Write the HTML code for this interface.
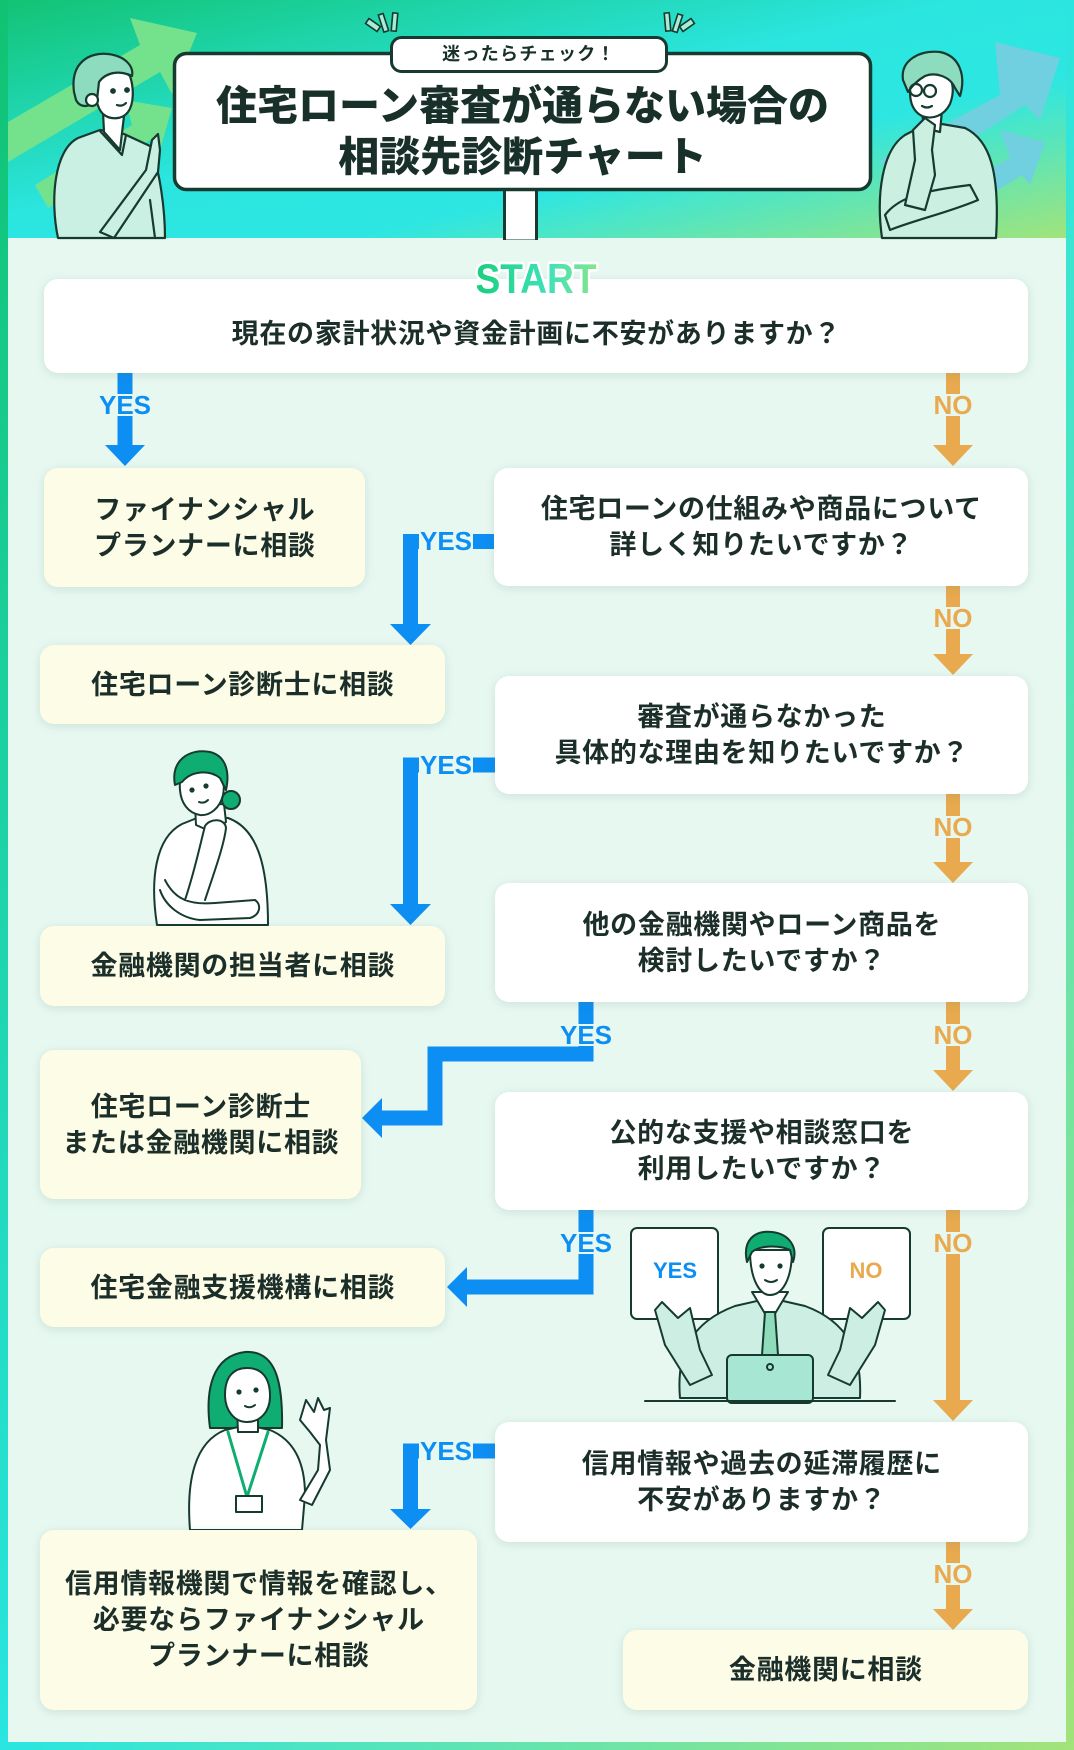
<!DOCTYPE html>
<html><head><meta charset="utf-8">
<style>
*{margin:0;padding:0;box-sizing:border-box}
html,body{width:1074px;height:1750px;overflow:hidden}
body{position:relative;background:linear-gradient(to bottom right,#10c271 0%,#2ae5e0 50%,#a2e379 100%);font-family:"Liberation Sans","Noto Sans CJK JP",sans-serif}
#inner{position:absolute;left:8px;top:238px;width:1058px;height:1504px;background:#e7f8f1}
#header{position:absolute;left:8px;top:0;width:1058px;height:238px;background:linear-gradient(to bottom right,#12c374 0%,#2be5df 45%,#2de6e2 66%,#a0e47b 100%)}
svg{position:absolute;left:0;top:0}
.box{position:absolute;border-radius:14px;display:flex;align-items:center;justify-content:center;text-align:center;font-weight:700;font-size:27px;line-height:36px;color:#1c2e29;letter-spacing:0.7px;padding-left:0.7px;box-shadow:0 2px 10px rgba(60,120,100,0.16)}
.w{background:#fff}.c{background:#fdfde7}
.lbl{position:absolute;font-weight:700;font-size:26px;line-height:22px;height:22px;transform:translate(-50%,-50%);background:#e7f8f1;padding:0 1px;font-family:"Liberation Sans",sans-serif}
.b{color:#0d8ef3}.o{color:#e9aa4f}
.title{position:absolute;left:173px;width:699px;text-align:center;font-weight:900;font-size:41px;line-height:51px;color:#183029}
</style></head><body>
<div id="header"></div>
<div id="inner"></div>

<!-- header graphics -->
<svg width="1074" height="240" viewBox="0 0 1074 240">
  <g fill="#74e18d">
    <polygon points="8,122 140,45 130,18 197,33 172,94 160,72 8,162"/>
    <polygon points="35,185 132,125 125,100 172,108 160,150 150,140 48,208"/>
  </g>
  <g fill="#70d0e0">
    <polygon points="880,160 1000,95 995,42 1060,58 1040,120 1025,105 900,185"/>
    <polygon points="930,200 1010,158 1000,130 1045,142 1030,185 1022,175 950,220"/>
  </g>
  <!-- left person -->
  <g stroke="#163a30" stroke-width="2.2" stroke-linejoin="round" stroke-linecap="round">
    <path d="M58,238 C50,200 54,150 78,138 L100,130 L124,134 L150,146 C160,170 165,210 165,238 Z" fill="#c9f0e2"/>
    <path d="M103,112 L104,132 L120,150 L124,116 Z" fill="#fff"/>
    <path d="M100,131 L122,155 L126,135" fill="none"/>
    <path d="M96,80 C100,68 118,66 130,76 C134,88 134,104 128,112 C122,120 110,120 103,114 C97,108 94,95 96,80 Z" fill="#fff"/>
    <path d="M74,92 C70,62 90,52 108,54 C125,56 134,66 132,76 C120,70 106,72 99,82 L97,100 C90,108 80,108 76,100 Z" fill="#8ddcc0"/>
    <circle cx="92" cy="100" r="6" fill="#fff"/>
    <circle cx="113" cy="91" r="1.8" fill="#163a30"/>
    <circle cx="127" cy="90" r="1.8" fill="#163a30"/>
    <path d="M117,105 Q122,107 126,103" fill="none"/>
    <path d="M100,232 L146,170 L152,140 L158,134 L160,150 L158,172 L114,238 Z" fill="#c9f0e2"/>
    <path d="M150,200 L155,238" fill="none"/>
  </g>
  <!-- right person -->
  <g stroke="#163a30" stroke-width="2.2" stroke-linejoin="round" stroke-linecap="round">
    <path d="M882,238 C876,195 882,150 905,135 L930,122 L965,128 C990,140 1000,172 996,238 Z" fill="#cbf0e2"/>
    <path d="M922,112 L924,128 L940,132 L942,110 Z" fill="#fff"/>
    <path d="M910,92 C908,75 920,66 938,68 C952,72 956,88 950,104 C944,116 932,120 922,116 C914,112 910,104 910,92 Z" fill="#fff"/>
    <path d="M903,80 C900,60 920,50 940,52 C960,56 966,76 960,96 L955,88 C950,76 935,72 925,76 C918,80 912,86 908,92 Z" fill="#8ddcc0"/>
    <circle cx="916" cy="90" r="6" fill="none"/>
    <circle cx="930" cy="91" r="6" fill="none"/>
    <path d="M922,106 Q927,109 932,106" fill="none"/>
    <path d="M885,215 C900,195 930,190 970,185 L978,200 C950,212 915,220 890,230 Z" fill="#cbf0e2"/>
    <path d="M905,205 L915,160 L913,130 L925,118 L935,125 L932,150 L935,175 L925,210 Z" fill="#cbf0e2"/>
  </g>
  <!-- sparkles -->
  <g fill="#a9ecd6" stroke="#163a30" stroke-width="1.6">
    <rect x="366" y="22" width="14" height="6" transform="rotate(35 373 25)"/>
    <rect x="381" y="14" width="5" height="18" transform="rotate(-18 383 23)"/>
    <rect x="392" y="13" width="5" height="18" transform="rotate(5 394 22)"/>
    <rect x="665" y="13" width="5" height="18" transform="rotate(-5 667 22)"/>
    <rect x="675" y="14" width="5" height="18" transform="rotate(18 677 23)"/>
    <rect x="680" y="22" width="14" height="6" transform="rotate(-35 687 25)"/>
  </g>
  <rect x="504.5" y="189" width="32" height="52" fill="#fff" stroke="#163a30" stroke-width="3"/>
  <rect x="174.5" y="53.5" width="696" height="136" rx="12" fill="#fff" stroke="#163a30" stroke-width="3.5"/>
  <rect x="391.5" y="37.5" width="275" height="34" rx="10" fill="#fff" stroke="#163a30" stroke-width="3"/>
</svg>
<div style="position:absolute;left:391px;top:37px;width:276px;height:35px;line-height:35px;text-align:center;font-weight:700;font-size:18px;letter-spacing:1.3px;color:#183029">迷ったらチェック！</div>
<div class="title" style="top:81px">住宅ローン審査が通らない場合の</div>
<div class="title" style="top:132px">相談先診断チャート</div>

<!-- connectors -->
<svg width="1074" height="1750" viewBox="0 0 1074 1750">
  <g fill="none" stroke="#0d8ef3" stroke-width="15">
    <path d="M125 373V447"/>
    <path d="M495 541.5H410.5V626"/>
    <path d="M495 765H410.5V906"/>
    <path d="M586 1002V1054H435V1118H380"/>
    <path d="M586 1210V1287H465"/>
    <path d="M495 1451H410.5V1511"/>
  </g>
  <g fill="#0d8ef3">
    <polygon points="105,445 145,445 125,466"/>
    <polygon points="390,624 431,624 410.5,645"/>
    <polygon points="390,904 431,904 410.5,925"/>
    <polygon points="382,1098 382,1138 362,1118"/>
    <polygon points="467,1267 467,1307 447,1287"/>
    <polygon points="390,1509 431,1509 410.5,1529"/>
  </g>
  <g fill="none" stroke="#e9aa4f" stroke-width="14">
    <path d="M953 373V447 M953 586V656 M953 794V864 M953 1002V1073 M953 1210V1404 M953 1542V1611"/>
  </g>
  <g fill="#e9aa4f">
    <polygon points="933,445 973,445 953,466"/>
    <polygon points="933,654 973,654 953,675"/>
    <polygon points="933,862 973,862 953,883"/>
    <polygon points="933,1070 973,1070 953,1091"/>
    <polygon points="933,1400 973,1400 953,1421"/>
    <polygon points="933,1609 973,1609 953,1630"/>
  </g>

  <!-- middle woman -->
  <g stroke="#163a30" stroke-width="2" stroke-linejoin="round" stroke-linecap="round">
    <path d="M157,925 C150,880 155,838 182,824 L202,816 L228,818 C256,828 268,862 268,925 Z" fill="#fff"/>
    <path d="M195,805 L196,825 L212,832 L226,822 L224,804 Z" fill="#fff"/>
    <circle cx="231" cy="800" r="9" fill="#10ad72"/>
    <path d="M180,790 C178,770 192,760 205,762 C220,765 226,780 223,795 C220,808 210,816 200,815 C188,813 181,803 180,790 Z" fill="#fff"/>
    <path d="M175,785 C170,760 190,748 210,752 C226,756 230,772 226,790 L220,778 C210,770 192,770 182,782 Z" fill="#10ad72"/>
    <circle cx="192" cy="790" r="1.6" fill="#163a30"/>
    <circle cx="206" cy="786" r="1.6" fill="#163a30"/>
    <path d="M199,802 Q204,804 208,800" fill="none"/>
    <path d="M165,880 C175,900 190,905 215,903 L255,900 C262,905 260,915 250,918 L200,920 C180,918 165,905 160,890" fill="#fff"/>
    <path d="M185,900 C195,870 200,845 205,826 C210,818 225,818 226,828 C224,845 215,870 205,900" fill="#fff"/>
  </g>

  <!-- man with laptop -->
  <g stroke="#163a30" stroke-width="2" stroke-linejoin="round" stroke-linecap="round">
    <rect x="631" y="1228" width="87" height="91" rx="6" fill="#fff"/>
    <rect x="823" y="1228" width="87" height="91" rx="6" fill="#fff"/>
    <path d="M680,1398 C676,1352 692,1322 735,1306 L770,1298 L805,1306 C848,1322 862,1352 860,1398 Z" fill="#cdeee2"/>
    <path d="M690,1385 L665,1345 L655,1310 L662,1302 L678,1318 L690,1308 L700,1350 L712,1375 Z" fill="#cdeee2"/>
    <path d="M850,1385 L875,1345 L885,1310 L878,1302 L862,1318 L850,1308 L840,1350 L828,1375 Z" fill="#cdeee2"/>
    <path d="M752,1292 L770,1322 L788,1292 Z" fill="#fff"/>
    <path d="M765,1312 L775,1312 L778,1355 L762,1355 Z" fill="#8fdcbc"/>
    <path d="M750,1250 C750,1280 760,1295 770,1295 C782,1295 792,1280 792,1250 Z" fill="#fff"/>
    <path d="M747,1262 C742,1240 755,1230 772,1232 C790,1234 798,1248 793,1262 L790,1250 C780,1245 760,1245 752,1252 Z" fill="#10ad72"/>
    <circle cx="762" cy="1266" r="1.6" fill="#163a30"/>
    <circle cx="780" cy="1266" r="1.6" fill="#163a30"/>
    <path d="M765,1280 Q771,1284 777,1280" fill="none"/>
    <rect x="727" y="1355" width="86" height="48" rx="5" fill="#a6e6d2"/>
    <circle cx="770" cy="1367" r="3" fill="none"/>
    <path d="M645,1401 H895" fill="none"/>
  </g>

  <!-- bottom woman -->
  <g stroke="#163a30" stroke-width="2" stroke-linejoin="round" stroke-linecap="round">
    <path d="M210,1428 C205,1390 212,1356 245,1352 C275,1350 283,1380 282,1428 Z" fill="#10ad72"/>
    <path d="M190,1530 C186,1480 195,1442 225,1430 L247,1425 L270,1430 C294,1440 305,1462 305,1495 L302,1530 Z" fill="#fff"/>
    <path d="M237,1410 L238,1432 L258,1432 L258,1410 Z" fill="#fff"/>
    <path d="M225,1395 C225,1375 235,1368 247,1368 C262,1368 270,1378 270,1396 C270,1412 260,1422 247,1422 C234,1422 225,1410 225,1395 Z" fill="#fff"/>
    <circle cx="239" cy="1392" r="1.6" fill="#163a30"/>
    <circle cx="256" cy="1390" r="1.6" fill="#163a30"/>
    <path d="M245,1406 Q250,1409 255,1405" fill="none"/>
    <path d="M300,1500 L318,1470 L320,1445 L310,1432 L300,1420 L306,1400 L314,1412 L318,1398 L324,1410 L330,1408 L326,1440 L330,1470 L312,1505 Z" fill="#fff"/>
    <path d="M228,1432 L247,1497 L268,1432" fill="none" stroke="#10ad72" stroke-width="3"/>
    <rect x="236" y="1496" width="26" height="16" fill="#fff"/>
  </g>
</svg>

<!-- boxes -->
<div class="box w" style="left:44px;top:279px;width:984px;height:94px;padding-top:16px">現在の家計状況や資金計画に不安がありますか？</div>
<div class="box c" style="left:44px;top:468px;width:321px;height:119px">ファイナンシャル<br>プランナーに相談</div>
<div class="box w" style="left:494px;top:468px;width:534px;height:118px">住宅ローンの仕組みや商品について<br>詳しく知りたいですか？</div>
<div class="box c" style="left:40px;top:645px;width:405px;height:79px">住宅ローン診断士に相談</div>
<div class="box w" style="left:495px;top:676px;width:533px;height:118px">審査が通らなかった<br>具体的な理由を知りたいですか？</div>
<div class="box c" style="left:40px;top:926px;width:405px;height:80px">金融機関の担当者に相談</div>
<div class="box w" style="left:495px;top:883px;width:533px;height:119px">他の金融機関やローン商品を<br>検討したいですか？</div>
<div class="box c" style="left:40px;top:1050px;width:321px;height:149px">住宅ローン診断士<br>または金融機関に相談</div>
<div class="box w" style="left:495px;top:1092px;width:533px;height:118px">公的な支援や相談窓口を<br>利用したいですか？</div>
<div class="box c" style="left:40px;top:1248px;width:405px;height:79px">住宅金融支援機構に相談</div>
<div class="box w" style="left:495px;top:1422px;width:533px;height:120px">信用情報や過去の延滞履歴に<br>不安がありますか？</div>
<div class="box c" style="left:40px;top:1530px;width:437px;height:180px">信用情報機関で情報を確認し、<br>必要ならファイナンシャル<br>プランナーに相談</div>
<div class="box c" style="left:623px;top:1630px;width:405px;height:80px">金融機関に相談</div>

<!-- labels -->
<div class="lbl b" style="left:125px;top:405px">YES</div>
<div class="lbl o" style="left:953px;top:405px">NO</div>
<div class="lbl b" style="left:446px;top:541px">YES</div>
<div class="lbl o" style="left:953px;top:618px">NO</div>
<div class="lbl b" style="left:446px;top:765px">YES</div>
<div class="lbl o" style="left:953px;top:827px">NO</div>
<div class="lbl b" style="left:586px;top:1035px">YES</div>
<div class="lbl o" style="left:953px;top:1035px">NO</div>
<div class="lbl b" style="left:586px;top:1243px">YES</div>
<div class="lbl o" style="left:953px;top:1243px">NO</div>
<div class="lbl b" style="left:446px;top:1451px">YES</div>
<div class="lbl o" style="left:953px;top:1574px">NO</div>

<svg width="1074" height="1750" viewBox="0 0 1074 1750">
  <defs>
    <linearGradient id="sg" x1="0" y1="0" x2="1" y2="0">
      <stop offset="0" stop-color="#18cf7c"/>
      <stop offset="0.6" stop-color="#3fe2b8"/>
      <stop offset="1" stop-color="#86e58a"/>
    </linearGradient>
  </defs>
  <text x="536" y="293" text-anchor="middle" font-family="Liberation Sans, sans-serif" font-weight="bold" font-size="42" textLength="121" lengthAdjust="spacingAndGlyphs" fill="url(#sg)" stroke="#fff" stroke-width="5" paint-order="stroke" stroke-linejoin="round">START</text>
  <text x="675" y="1278" text-anchor="middle" font-family="Liberation Sans, sans-serif" font-weight="bold" font-size="22" fill="#0d8ef3">YES</text>
  <text x="866" y="1278" text-anchor="middle" font-family="Liberation Sans, sans-serif" font-weight="bold" font-size="22" fill="#e9aa4f">NO</text>
</svg>
</body></html>
